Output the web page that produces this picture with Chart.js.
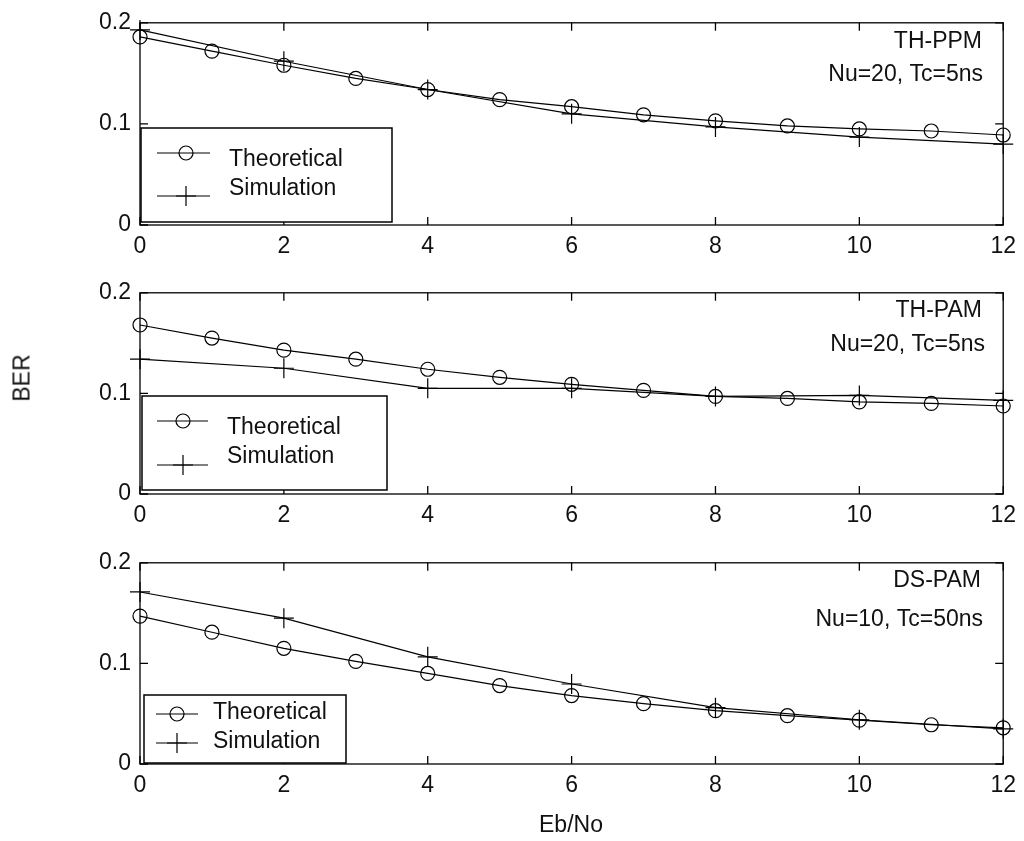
<!DOCTYPE html>
<html>
<head>
<meta charset="utf-8">
<script src="https://cdn.jsdelivr.net/npm/chart.js@4.4.0/dist/chart.umd.min.js"></script>
<style>
  body { margin: 0; background: #fff; width: 1024px; height: 841px; position: relative; overflow: hidden;
         font-family: "Liberation Sans", Arial, sans-serif; }
  .plot { position: absolute; left: 0; }
  .axlabel { position: absolute; font-size: 23px; color: #111; white-space: nowrap; }
  #berLabel { left: 22px; top: 378px; transform: translate(-50%, -50%) rotate(-90deg); }
  #ebnoLabel { left: 571px; top: 824px; transform: translate(-50%, -50%); }
</style>
</head>
<body>
<canvas class="plot" id="ppmChart" width="1024" height="270" style="top:0"></canvas>
<canvas class="plot" id="thPamChart" width="1024" height="270" style="top:270px"></canvas>
<canvas class="plot" id="dsPamChart" width="1024" height="301" style="top:540px"></canvas>
<div class="axlabel" id="berLabel">BER</div>
<div class="axlabel" id="ebnoLabel">Eb/No</div>
<script>
// Eb/No values (dB)
var ebno = [0, 1, 2, 3, 4, 5, 6, 7, 8, 9, 10, 11, 12];
var ebnoSim = [0, 2, 4, 6, 8, 10, 12];
var xTicks = [0, 2, 4, 6, 8, 10, 12];
var yTicks = [0, 0.1, 0.2];

// TH-PPM, Nu=20, Tc=5ns
var ppmTheory = [0.186, 0.172, 0.158, 0.145, 0.134, 0.124, 0.117, 0.109, 0.103, 0.098, 0.095, 0.093, 0.089];
var ppmSim = [0.193, 0.162, 0.134, 0.110, 0.097, 0.087, 0.080];

// TH-PAM, Nu=20, Tc=5ns
var thPamTheory = [0.168, 0.155, 0.143, 0.134, 0.124, 0.116, 0.109, 0.103, 0.097, 0.095, 0.0915, 0.090, 0.0875];
var thPamSim = [0.134, 0.125, 0.105, 0.105, 0.097, 0.098, 0.093];

// DS-PAM, Nu=10, Tc=50ns
var dsPamTheory = [0.147, 0.131, 0.115, 0.102, 0.090, 0.078, 0.068, 0.060, 0.053, 0.048, 0.0436, 0.039, 0.036];
var dsPamSim = [0.171, 0.145, 0.1065, 0.0795, 0.056, 0.044, 0.035];

var seriesNames = ['Theoretical', 'Simulation'];

var FAMILY = '"Liberation Sans", Arial, sans-serif';
var FONT = '23px ' + FAMILY;
var TICK = 8;

function drawMarker(ctx, style, x, y) {
     ctx.beginPath();
     if (style === 'circle') {
          ctx.arc(x, y, 7, 0, Math.PI * 2);
     } else {
          ctx.moveTo(x - 10, y); ctx.lineTo(x + 10, y);
          ctx.moveTo(x, y - 10); ctx.lineTo(x, y + 10);
     }
     ctx.stroke();
}

// box, inward ticks, text notes and the legend
var frame = {
     id: 'frame',
     afterDraw: function(chart, args, opts) {
          var ctx = chart.ctx, a = chart.chartArea;
          var xs = chart.scales.x, ys = chart.scales.y;
          ctx.save();
          ctx.strokeStyle = '#000';
          ctx.lineWidth = 1.3;
          ctx.strokeRect(a.left, a.top, a.width, a.height);
          ctx.beginPath();
          xs.ticks.forEach(function(t) {
               var px = xs.getPixelForValue(t.value);
               ctx.moveTo(px, a.bottom); ctx.lineTo(px, a.bottom - TICK);
               ctx.moveTo(px, a.top); ctx.lineTo(px, a.top + TICK);
          });
          ys.ticks.forEach(function(t) {
               var py = ys.getPixelForValue(t.value);
               ctx.moveTo(a.left, py); ctx.lineTo(a.left + TICK, py);
               ctx.moveTo(a.right, py); ctx.lineTo(a.right - TICK, py);
          });
          ctx.stroke();

          ctx.font = FONT;
          ctx.fillStyle = '#111';
          ctx.textAlign = 'right';
          ctx.textBaseline = 'middle';
          opts.notes.forEach(function(n) { ctx.fillText(n.text, n.x, n.y); });

          var lg = opts.legend;
          ctx.fillStyle = '#fff';
          ctx.fillRect(lg.box[0], lg.box[1], lg.box[2] - lg.box[0], lg.box[3] - lg.box[1]);
          ctx.lineWidth = 1.5;
          ctx.strokeRect(lg.box[0], lg.box[1], lg.box[2] - lg.box[0], lg.box[3] - lg.box[1]);
          ctx.lineWidth = 1.2;
          ctx.fillStyle = '#111';
          ctx.textAlign = 'left';
          chart.data.datasets.forEach(function(ds, i) {
               var row = lg.rows[i];
               ctx.beginPath();
               ctx.moveTo(lg.line[0], row[0]); ctx.lineTo(lg.line[1], row[0]);
               ctx.stroke();
               drawMarker(ctx, ds.pointStyle, lg.marker, row[0]);
               ctx.fillText(ds.label, lg.text, row[1]);
          });
          ctx.restore();
     }
};

function berChart(idName, theory, sim, top, plotBottom, notes, legend) {
     var canvas = document.getElementById(idName);
     return new Chart(canvas, {
          type: 'line',
          data: {
               datasets: [
                    {
                         label: seriesNames[0],
                         data: ebno.map(function(e, i) { return {x: e, y: theory[i]}; }),
                         borderColor: '#000',
                         borderWidth: 1.2,
                         pointStyle: 'circle',
                         pointRadius: 7,
                         pointBorderWidth: 1.2,
                         pointBorderColor: '#000',
                         pointBackgroundColor: 'transparent',
                         tension: 0,
                         fill: false,
                         clip: false
                    },
                    {
                         label: seriesNames[1],
                         data: ebnoSim.map(function(e, i) { return {x: e, y: sim[i]}; }),
                         borderColor: '#000',
                         borderWidth: 1.2,
                         pointStyle: 'cross',
                         pointRadius: 10,
                         pointBorderWidth: 1.2,
                         pointBorderColor: '#000',
                         tension: 0,
                         fill: false,
                         clip: false
                    }
               ]
          },
          options: {
               responsive: false,
               animation: false,
               events: [],
               layout: { padding: { top: top, right: 16, left: 0, bottom: 0 } },
               plugins: {
                    legend: { display: false },
                    tooltip: { enabled: false },
                    frame: { notes: notes, legend: legend }
               },
               scales: {
                    x: {
                         type: 'linear',
                         min: 0,
                         max: 12,
                         afterBuildTicks: function(scale) { scale.ticks = xTicks.map(function(v) { return {value: v}; }); },
                         afterFit: function(scale) { scale.height = canvas.height - plotBottom; },
                         grid: { display: false, drawTicks: false },
                         border: { display: false },
                         ticks: { font: { family: FAMILY, size: 23 }, color: '#111', padding: 8, maxRotation: 0 }
                    },
                    y: {
                         min: 0,
                         max: 0.2,
                         afterBuildTicks: function(scale) { scale.ticks = yTicks.map(function(v) { return {value: v}; }); },
                         afterFit: function(scale) { scale.width = 140; },
                         grid: { display: false, drawTicks: false },
                         border: { display: false },
                         ticks: {
                              font: { family: FAMILY, size: 23 },
                              color: '#111',
                              padding: 9,
                              callback: function(v) { return String(+v.toFixed(2)); }
                         }
                    }
               }
          },
          plugins: [frame]
     });
}

berChart('ppmChart', ppmTheory, ppmSim, 22, 225,
     [{text: 'TH-PPM', x: 982, y: 42}, {text: 'Nu=20, Tc=5ns', x: 983, y: 75}],
     {box: [141, 128, 392, 222], line: [157, 210], marker: 186, text: 229, rows: [[153, 160], [196, 189]]});

berChart('thPamChart', thPamTheory, thPamSim, 21, 224,
     [{text: 'TH-PAM', x: 982, y: 41}, {text: 'Nu=20, Tc=5ns', x: 985, y: 75}],
     {box: [142, 126, 387, 220], line: [157, 208], marker: 183, text: 227, rows: [[151, 158], [195, 187]]});

berChart('dsPamChart', dsPamTheory, dsPamSim, 19, 224,
     [{text: 'DS-PAM', x: 981, y: 41}, {text: 'Nu=10, Tc=50ns', x: 983, y: 80}],
     {box: [144, 155, 346, 223], line: [156, 198], marker: 177, text: 213, rows: [[174, 173], [203, 202]]});
</script>
</body>
</html>
